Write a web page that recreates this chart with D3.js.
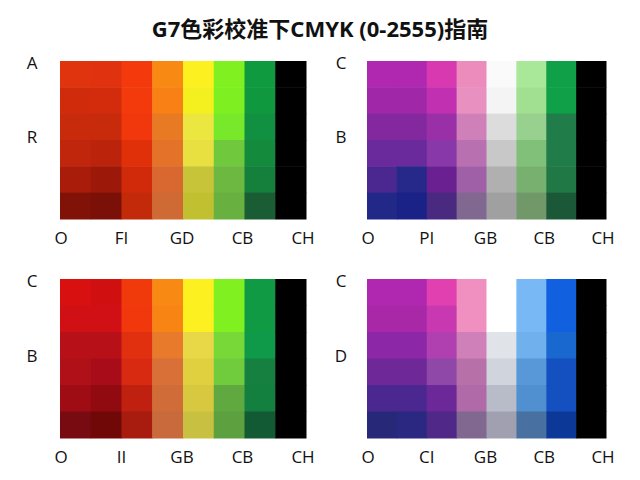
<!DOCTYPE html>
<html>
<head>
<meta charset="utf-8">
<script src="https://cdn.jsdelivr.net/npm/d3@7"></script>
<style>
  body { margin: 0; background: #fff; }
  text { font-family: "Open Sans", "Noto Sans CJK SC", sans-serif; fill: #111; }
</style>
</head>
<body>
<div id="chart"></div>
<script>
var width = 640, height = 480

// cell colours, one array per column (top -> bottom)
var colors1 = [
  ['#e0340f', '#d02c0c', '#c82a0c', '#bf260c', '#aa1c0a', '#801208'],
  ['#e0320e', '#d22c0c', '#c82a0c', '#bb240b', '#9c1808', '#7a1008'],
  ['#f43a0c', '#f23a0c', '#f0380c', '#e0300a', '#d02a0a', '#c22a0a'],
  ['#f88a14', '#f88014', '#e87a24', '#e47228', '#d86830', '#d06a34'],
  ['#fcf020', '#f4f020', '#ece640', '#e8e040', '#c8c43a', '#c0c030'],
  ['#80f020', '#7ef022', '#78e82a', '#70c83c', '#6cb840', '#68b040'],
  ['#109a40', '#10983e', '#109040', '#148a3c', '#14803c', '#1a5c34'],
  ['#000', '#000', '#000', '#000', '#000', '#000']
]
var colors2 = [
  ['#b028b0', '#a028a8', '#8428a0', '#6a2a9c', '#4a2890', '#222888'],
  ['#b028b0', '#a028a8', '#8428a0', '#6a2a9c', '#26288a', '#1a2288'],
  ['#d838b0', '#c030b0', '#9a30a8', '#8838a8', '#6a2090', '#4a2a80'],
  ['#ec8cbc', '#e890c0', '#d080b8', '#b870b0', '#a060a8', '#806890'],
  ['#fafafa', '#f4f4f4', '#dcdcdc', '#c8c8c8', '#b0b0b0', '#a0a0a0'],
  ['#a8e898', '#a0e090', '#98d090', '#80c078', '#78b070', '#709868'],
  ['#10a048', '#10a048', '#207c48', '#207c48', '#207844', '#1a5838'],
  ['#000', '#000', '#000', '#000', '#000', '#000']
]
var colors3 = [
  ['#d81010', '#d01014', '#b81018', '#b01018', '#a00c14', '#780a12'],
  ['#d01010', '#d01014', '#b81018', '#a80c18', '#900a10', '#700808'],
  ['#f03a0c', '#f0380c', '#e03010', '#d82a10', '#c02010', '#a81c10'],
  ['#f88a14', '#f88414', '#e87a2c', '#d87038', '#d06c38', '#c86a3c'],
  ['#fcf020', '#fcf020', '#e8d848', '#e0d040', '#d8c840', '#c8c040'],
  ['#80f020', '#80f020', '#78d838', '#70cc3c', '#60a840', '#5ca040'],
  ['#109a44', '#109a44', '#0e9a48', '#168040', '#148040', '#125a34'],
  ['#000', '#000', '#000', '#000', '#000', '#000']
]
var colors4 = [
  ['#b028b0', '#a828a8', '#8c28a8', '#6e2898', '#4a2890', '#282878'],
  ['#b028b0', '#a828a8', '#8c28a8', '#6e2898', '#4a2890', '#2a2880'],
  ['#e040b0', '#c838b0', '#b040b0', '#9048a8', '#6c2898', '#502888'],
  ['#f090c0', '#f090c0', '#d080b8', '#b870a8', '#b06aa8', '#806890'],
  ['#ffffff', '#ffffff', '#e0e4e8', '#d0d4dc', '#b8bcc8', '#a0a0b0'],
  ['#78b8f4', '#78b8f4', '#70b0ec', '#5898d8', '#5090d0', '#4870a0'],
  ['#1060e0', '#1060e0', '#1868d0', '#1450c0', '#1450c0', '#0c3898'],
  ['#000', '#000', '#000', '#000', '#000', '#000']
]

var xLabels1 = ['O', 'FI', 'GD', 'CB', 'CH']
var xLabels2 = ['O', 'PI', 'GB', 'CB', 'CH']
var xLabels3 = ['O', 'II', 'GB', 'CB', 'CH']
var xLabels4 = ['O', 'CI', 'GB', 'CB', 'CH']
var yLabels1 = ['A', 'R']
var yLabels2 = ['C', 'B']
var yLabels3 = ['C', 'B']
var yLabels4 = ['C', 'D']

var panels = [
  { colors: colors1, xl: xLabels1, yl: yLabels1, x0: 60, x1: 306, y0: 61, y1: 219, lx: 32 },
  { colors: colors2, xl: xLabels2, yl: yLabels2, x0: 367, x1: 606, y0: 61, y1: 219, lx: 341 },
  { colors: colors3, xl: xLabels3, yl: yLabels3, x0: 60, x1: 306, y0: 279, y1: 438, lx: 32 },
  { colors: colors4, xl: xLabels4, yl: yLabels4, x0: 367, x1: 606, y0: 279, y1: 438, lx: 341 }
]

var svg = d3.select("#chart")
  .append("svg")
  .attr("width", width)
  .attr("height", height)

svg.append("text")
  .attr("x", 320)
  .attr("y", 37)
  .attr("text-anchor", "middle")
  .style("font-size", "22px")
  .style("font-weight", "bold")
  .style("font-family", "'Noto Sans', 'Noto Sans CJK SC', sans-serif")
  .text("G7色彩校准下CMYK (0-2555)指南")

panels.forEach(function(p) {
  var xScale = d3.scaleBand().domain(d3.range(8)).range([p.x0, p.x1])
  var yScale = d3.scaleBand().domain(d3.range(6)).range([p.y0, p.y1])
  var g = svg.append("g")

  p.colors.forEach(function(col, i) {
    g.selectAll(null)
      .data(col)
      .enter()
      .append("rect")
      .attr("x", xScale(i))
      .attr("y", (d, j) => yScale(j))
      .attr("width", xScale.bandwidth() + 0.5)
      .attr("height", yScale.bandwidth() + 0.5)
      .attr("fill", d => d)
  })

  // bottom labels spread across the block
  var lScale = d3.scalePoint().domain(p.xl).range([p.x0 + 1, p.x1 - 3])
  g.selectAll(".xl")
    .data(p.xl)
    .enter()
    .append("text")
    .attr("x", d => lScale(d))
    .attr("y", p.y1 + 25)
    .attr("text-anchor", "middle")
    .style("font-size", "17px")
    .text(d => d)

  g.selectAll(".yl")
    .data(p.yl)
    .enter()
    .append("text")
    .attr("x", p.lx)
    .attr("y", (d, i) => i == 0 ? p.y0 + 8 : (p.y0 + p.y1) / 2 + 3)
    .attr("text-anchor", "middle")
    .style("font-size", "17px")
    .text(d => d)
})
</script>
</body>
</html>
